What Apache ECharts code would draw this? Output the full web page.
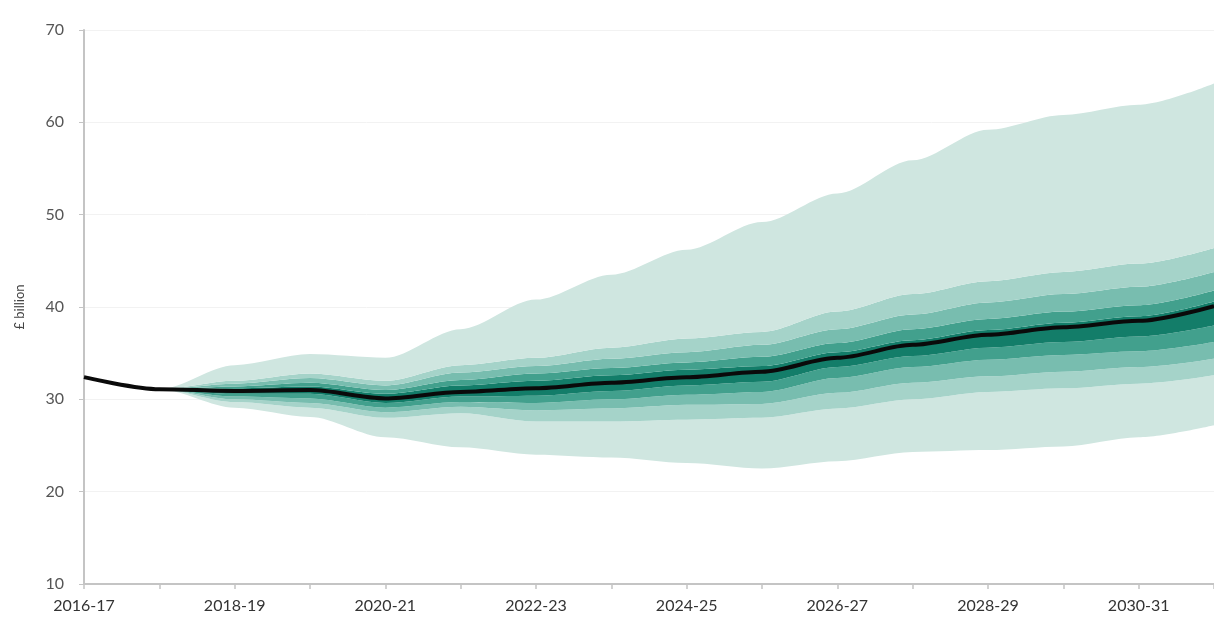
<!DOCTYPE html>
<html>
<head>
<meta charset="utf-8">
<script src="https://cdn.jsdelivr.net/npm/echarts@6/dist/echarts.min.js"></script>
<style>
  html, body { margin: 0; padding: 0; background: #fff; }
  #chart { width: 1214px; height: 621px; }
</style>
</head>
<body>
<div id="chart"></div>
<script>
// years on the x axis
var years = ['2016-17', '2017-18', '2018-19', '2019-20', '2020-21', '2021-22', '2022-23', '2023-24',
             '2024-25', '2025-26', '2026-27', '2027-28', '2028-29', '2029-30', '2030-31', '2031-32'];

// central projection (£ billion)
var central = [32.4, 31.1, 30.9, 31.0, 30.1, 30.8, 31.2, 31.8, 32.4, 33.0, 34.5, 35.9, 37.0, 37.8, 38.5, 40.1];

// outermost band
var outerHigh = [32.4, 31.1, 33.7, 34.9, 34.5, 37.6, 40.8, 43.5, 46.2, 49.2, 52.3, 55.9, 59.2, 60.8, 61.9, 64.2];
var outerLow  = [32.4, 31.1, 29.1, 28.1, 25.9, 24.8, 24.0, 23.7, 23.1, 22.5, 23.3, 24.3, 24.5, 24.9, 25.9, 27.2];

// inner bands, upper side (1 = nearest the centre)
var high4 = [32.4, 31.1, 32.0, 32.8, 32.0, 33.7, 34.5, 35.6, 36.6, 37.3, 39.5, 41.4, 42.8, 43.8, 44.7, 46.4];
var high3 = [32.4, 31.1, 31.7, 32.3, 31.5, 32.9, 33.6, 34.4, 35.1, 35.9, 37.6, 39.2, 40.5, 41.4, 42.2, 43.8];
var high2 = [32.4, 31.1, 31.4, 31.8, 31.0, 32.1, 32.8, 33.4, 34.0, 34.6, 36.1, 37.6, 38.7, 39.5, 40.2, 41.8];
var high1 = [32.4, 31.1, 31.2, 31.4, 30.6, 31.5, 32.0, 32.6, 33.2, 33.6, 35.1, 36.4, 37.5, 38.3, 39.0, 40.6];

// inner bands, lower side
var low1 = [32.4, 31.1, 30.6, 30.6, 29.6, 30.3, 30.4, 30.9, 31.5, 31.9, 33.5, 34.7, 35.6, 36.2, 36.8, 38.0];
var low2 = [32.4, 31.1, 30.3, 30.1, 29.1, 29.7, 29.6, 30.0, 30.5, 30.8, 32.3, 33.5, 34.3, 34.8, 35.2, 36.2];
var low3 = [32.4, 31.1, 30.0, 29.6, 28.6, 29.2, 28.8, 29.0, 29.4, 29.5, 30.7, 31.8, 32.5, 33.0, 33.5, 34.4];
var low4 = [32.4, 31.1, 29.7, 29.1, 28.0, 28.5, 27.6, 27.6, 27.8, 28.0, 29.0, 30.0, 30.8, 31.2, 31.7, 32.6];

var shade1 = '#cfe6e0';
var shade2 = '#a5d3c9';
var shade3 = '#78bdaf';
var shade4 = '#42a08d';
var shade5 = '#137d69';

var chart = echarts.init(document.getElementById('chart'));

function diff(top, bottom) {
    return top.map(function (v, i) { return +(v - bottom[i]).toFixed(2); });
}

function band(name, values, color) {
    return {
        name: name,
        type: 'line',
        stack: 'fan',
        data: values,
        symbol: 'none',
        smooth: 0.3,
        smoothMonotone: 'x',
        lineStyle: { width: 0 },
        areaStyle: { color: color || '#fff', opacity: color ? 1 : 0 },
        silent: true,
        z: 1
    };
}

var bands = [
    band('base', outerLow, null),
    band('outer low', diff(low4, outerLow), shade1),
    band('low 4', diff(low3, low4), shade2),
    band('low 3', diff(low2, low3), shade3),
    band('low 2', diff(low1, low2), shade4),
    band('centre', diff(high1, low1), shade5),
    band('high 2', diff(high2, high1), shade4),
    band('high 3', diff(high3, high2), shade3),
    band('high 4', diff(high4, high3), shade2),
    band('outer high', diff(outerHigh, high4), shade1)
];

bands.push({
    name: 'Central projection',
    type: 'line',
    data: central,
    symbol: 'none',
    smooth: 0.3,
    smoothMonotone: 'x',
    lineStyle: { color: '#0a0a0a', width: 4 },
    z: 5
});

chart.setOption({
    animation: false,
    textStyle: { fontFamily: 'Lato, "DejaVu Sans", sans-serif' },
    grid: { left: 84, right: -10, top: 30, bottom: 37 },
    xAxis: {
        type: 'category',
        data: years,
        boundaryGap: false,
        axisLine: { lineStyle: { color: '#c4c4c4', width: 2 } },
        axisTick: { show: true, interval: 0, length: 5, lineStyle: { color: '#c4c4c4', width: 1.5 } },
        axisLabel: { interval: 1, color: '#333', fontSize: 16, margin: 14 },
        splitLine: { show: false }
    },
    yAxis: {
        type: 'value',
        min: 10,
        max: 70,
        interval: 10,
        name: '£ billion',
        nameLocation: 'middle',
        nameGap: 58,
        nameTextStyle: { color: '#444', fontSize: 13 },
        axisLine: { show: true, lineStyle: { color: '#c4c4c4', width: 2 } },
        axisTick: { show: true, length: 5, lineStyle: { color: '#c4c4c4' } },
        axisLabel: { color: '#555', fontSize: 16, margin: 20 },
        splitLine: { show: true, lineStyle: { color: '#f2f2f2', width: 1 } }
    },
    series: bands
});
</script>
</body>
</html>
